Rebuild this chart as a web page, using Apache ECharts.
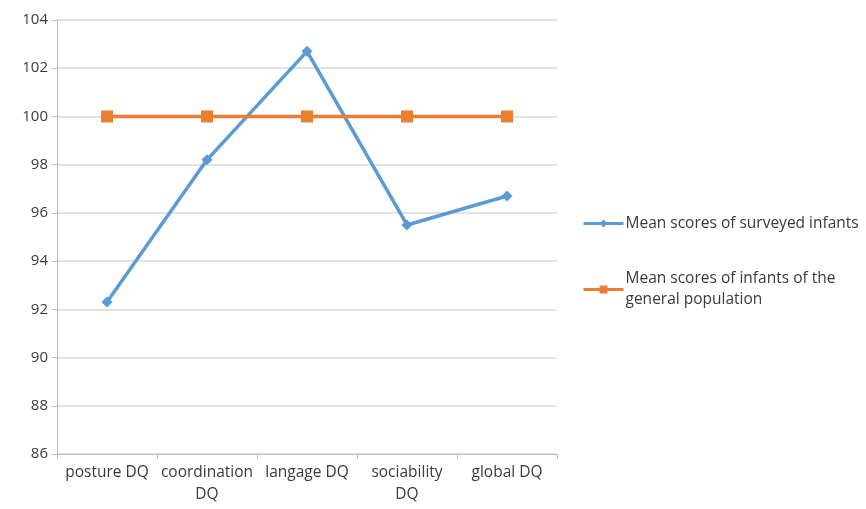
<!DOCTYPE html>
<html><head><meta charset="utf-8">
<script src="https://cdn.jsdelivr.net/npm/echarts@6/dist/echarts.min.js"></script>
<style>html,body{margin:0;padding:0;background:#fff}#c{width:866px;height:509px}</style>
</head><body><div id="c"></div>
<script>
const categories = ['posture DQ', 'coordination\nDQ', 'langage DQ', 'sociability\nDQ', 'global DQ'];
const surveyed = [92.3, 98.2, 102.7, 95.5, 96.7];
const general = [100, 100, 100, 100, 100];
const seriesNames = ['Mean scores of surveyed infants', 'Mean scores of infants of the\ngeneral population'];
const yTicks = {min: 86, max: 104, interval: 2};

const chart = echarts.init(document.getElementById('c'));
const font = '"Open Sans", Lato, sans-serif';
chart.setOption({
  animation: false,
  textStyle: {fontFamily: font},
  grid: {left: 57, right: 309, top: 20, bottom: 55},
  legend: {
    orient: 'vertical', left: 577, top: 208, itemGap: 24,
    itemWidth: 40, itemHeight: 10,
    lineStyle: {width: 3},
    textStyle: {fontSize: 15.5, color: '#3a3a3a', fontFamily: font, lineHeight: 21, padding: [0, 0, 0, -3]},
    data: [
      {name: seriesNames[0]},
      {name: seriesNames[1], textStyle: {padding: [21, 0, 0, -3]}}
    ]
  },
  xAxis: {
    type: 'category', data: categories, boundaryGap: true,
    axisLine: {lineStyle: {color: '#bfbfbf'}},
    axisTick: {show: true, lineStyle: {color: '#bfbfbf'}, length: 5},
    axisLabel: {fontSize: 15.5, color: '#3a3a3a', lineHeight: 22, margin: 8, interval: 0}
  },
  yAxis: {
    type: 'value', min: yTicks.min, max: yTicks.max, interval: yTicks.interval,
    axisLine: {show: true, lineStyle: {color: '#bfbfbf'}},
    axisTick: {show: true, lineStyle: {color: '#bfbfbf'}, length: 5},
    splitLine: {lineStyle: {color: '#d9d9d9', width: 1.5}},
    axisLabel: {fontSize: 15, color: '#3a3a3a', margin: 9}
  },
  series: [
    {name: seriesNames[0], type: 'line', data: surveyed, symbol: 'diamond', symbolSize: 11,
     lineStyle: {color: '#5B9BD5', width: 3.5}, itemStyle: {color: '#5B9BD5'}},
    {name: seriesNames[1], type: 'line', data: general, symbol: 'rect', symbolSize: 12,
     lineStyle: {color: '#ED7D31', width: 3.5}, itemStyle: {color: '#ED7D31'}}
  ]
});
</script></body></html>
